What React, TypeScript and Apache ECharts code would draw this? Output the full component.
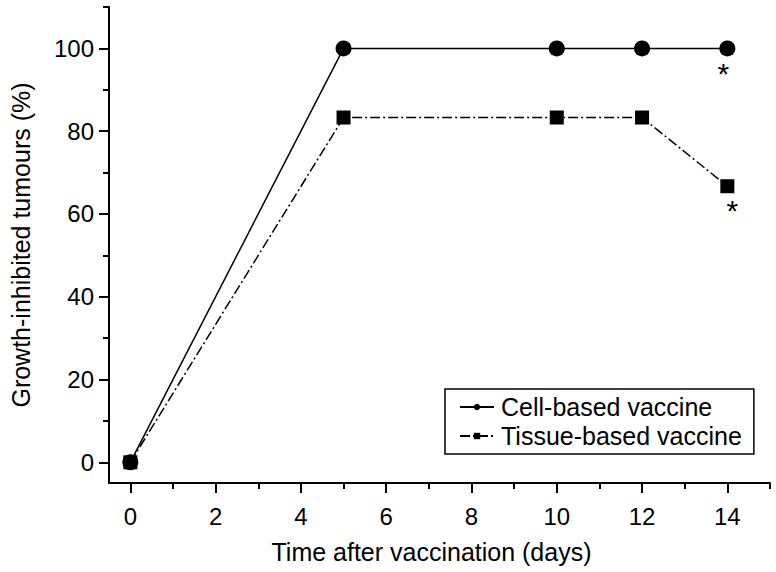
import React, { useEffect, useRef } from "react";
import * as echarts from "echarts";

const days = [0, 5, 10, 12, 14];
const cellBased = [0, 100, 100, 100, 100];
const tissueBased = [0, 83.3, 83.3, 83.3, 66.7];
const cellSignificant = [false, false, false, false, true];
const tissueSignificant = [false, false, false, false, true];
const xMajorTicks = [0, 2, 4, 6, 8, 10, 12, 14];
const xMinorTicks = [1, 3, 5, 7, 9, 11, 13, 15];
const yMajorTicks = [0, 20, 40, 60, 80, 100];
const yMinorTicks = [10, 30, 50, 70, 90, 110];
const seriesNames = ["Cell-based vaccine", "Tissue-based vaccine"];
const xTitle = "Time after vaccination (days)";
const yTitle = "Growth-inhibited tumours (%)";

const FONT = "'Liberation Sans', Arial, Helvetica, sans-serif";

export default function App() {
  const ref = useRef<HTMLDivElement>(null);
  useEffect(() => {
    if (!ref.current) return;
    const chart = echarts.init(ref.current, null, { renderer: "svg" });
    const axisLine = { show: true, onZero: false, lineStyle: { color: "#000", width: 2 } };
    const build = (vals: number[], sig: boolean[], dx: number) =>
      days.map((d, i) =>
        sig[i]
          ? {
              value: [d, vals[i]],
              label: {
                show: true,
                position: "bottom",
                formatter: "*",
                fontSize: 30,
                fontFamily: FONT,
                color: "#000",
                offset: [dx, -3],
              },
            }
          : { value: [d, vals[i]] }
      );
    chart.setOption({
      animation: false,
      backgroundColor: "#fff",
      grid: { left: 106, right: 6, top: 7, bottom: 89 },
      legend: {
        orient: "vertical",
        left: 445,
        top: 389,
        padding: [4, 12, 4, 14],
        itemGap: 1,
        itemWidth: 34,
        itemHeight: 8,
        borderColor: "#000",
        borderWidth: 1.5,
        borderRadius: 0,
        textStyle: { fontSize: 25, fontFamily: FONT, color: "#000", lineHeight: 28, padding: [0, 0, 0, 2] },
        data: seriesNames,
      },
      xAxis: [
        {
          type: "value",
          min: -0.5,
          max: 15,
          axisLine,
          splitLine: { show: false },
          axisTick: { show: true, length: 10, inside: false, customValues: xMajorTicks, lineStyle: { color: "#000", width: 2 } },
          axisLabel: { customValues: xMajorTicks, fontSize: 24, fontFamily: FONT, color: "#000", margin: 21 },
          name: xTitle,
          nameLocation: "middle",
          nameGap: 56,
          nameTextStyle: { fontSize: 25, fontFamily: FONT, color: "#000", padding: [0, 16, 0, 0] },
        },
        {
          type: "value",
          min: -0.5,
          max: 15,
          position: "bottom",
          axisLine: { show: false, onZero: false },
          splitLine: { show: false },
          axisTick: { show: true, length: 6, customValues: xMinorTicks, lineStyle: { color: "#000", width: 2 } },
          axisLabel: { show: false },
        },
      ],
      yAxis: [
        {
          type: "value",
          min: -5,
          max: 110,
          axisLine,
          splitLine: { show: false },
          axisTick: { show: true, length: 10, customValues: yMajorTicks, lineStyle: { color: "#000", width: 2 } },
          axisLabel: { customValues: yMajorTicks, fontSize: 24, fontFamily: FONT, color: "#000", margin: 15 },
          name: yTitle,
          nameLocation: "middle",
          nameGap: 76,
          nameTextStyle: { fontSize: 25, fontFamily: FONT, color: "#000" },
        },
        {
          type: "value",
          min: -5,
          max: 110,
          position: "left",
          axisLine: { show: false, onZero: false },
          splitLine: { show: false },
          axisTick: { show: true, length: 6, customValues: yMinorTicks, lineStyle: { color: "#000", width: 2 } },
          axisLabel: { show: false },
        },
      ],
      series: [
        {
          name: seriesNames[0],
          type: "line",
          xAxisIndex: 0,
          yAxisIndex: 0,
          data: build(cellBased, cellSignificant, -4),
          symbol: "circle",
          symbolSize: 16,
          itemStyle: { color: "#000" },
          lineStyle: { color: "#000", width: 1.5, type: "solid" },
        },
        {
          name: seriesNames[1],
          type: "line",
          xAxisIndex: 0,
          yAxisIndex: 0,
          data: build(tissueBased, tissueSignificant, 5),
          symbol: "rect",
          symbolSize: 14,
          itemStyle: { color: "#000" },
          lineStyle: { color: "#000", width: 1.5, type: [10, 3, 2, 3] },
        },
      ],
    });
    return () => chart.dispose();
  }, []);
  return <div ref={ref} style={{ position: "fixed", left: 0, top: 0, width: 776, height: 572 }} />;
}
